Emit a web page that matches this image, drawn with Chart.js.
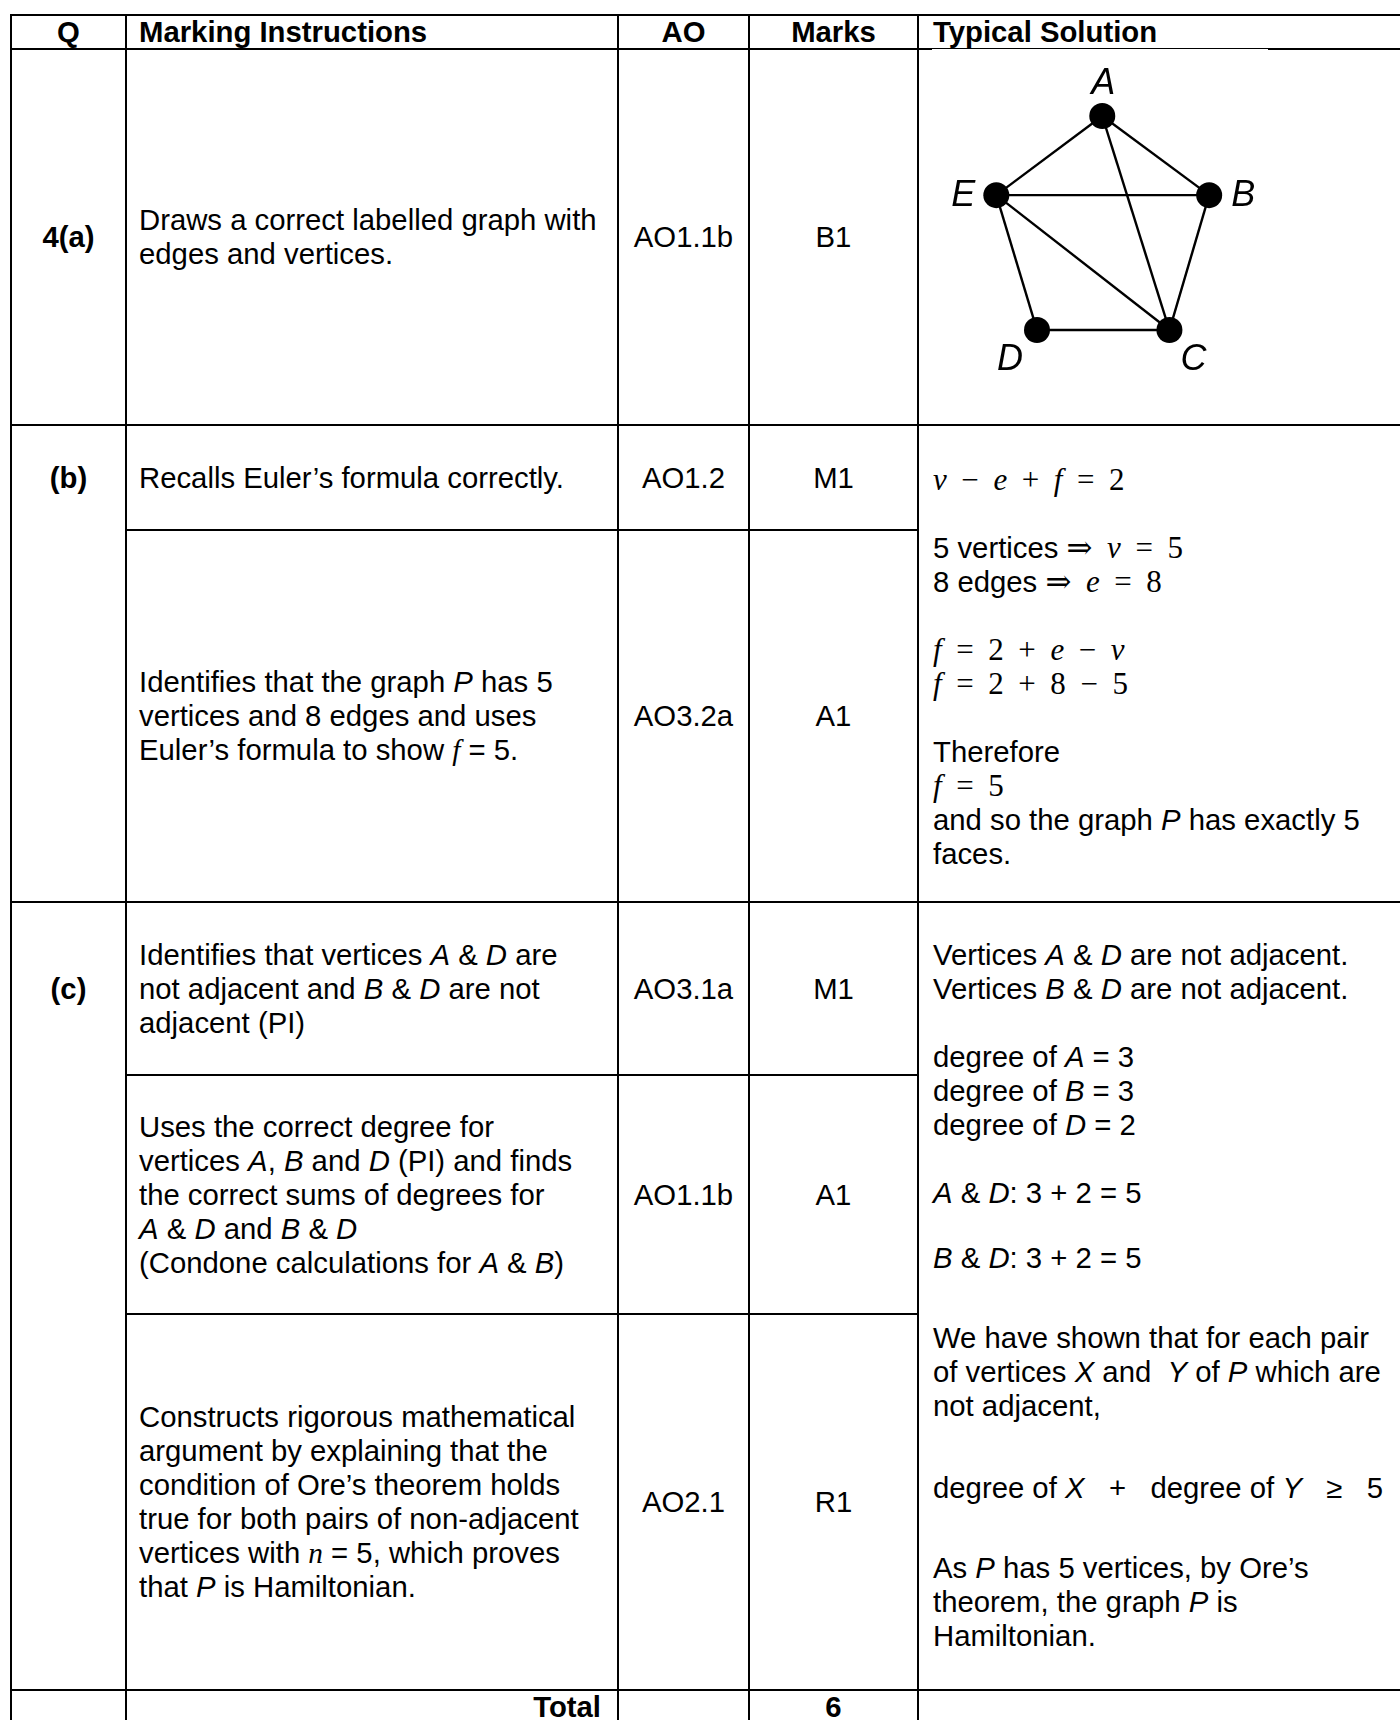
<!DOCTYPE html>
<html>
<head>
<meta charset="utf-8">
<script src="https://cdn.jsdelivr.net/npm/chart.js@4.4.1/dist/chart.umd.min.js"></script>
<style>
  html, body { margin: 0; padding: 0; background: #fff; overflow: hidden; }
  body { position: relative; width: 1400px; height: 1720px; font-family: "Liberation Sans", Arial, sans-serif; font-size: 29.3px; color: #000; }
  .h { position: absolute; height: 2px; background: #000; }
  .v { position: absolute; width: 2px; top: 14px; height: 1710px; background: #000; }
  .c { position: absolute; display: flex; align-items: center; line-height: 34px; white-space: nowrap; box-sizing: border-box; }
  .ctr { justify-content: center; text-align: center; }
  .b { font-weight: bold; }
  .top { align-items: flex-start; display: block; }
  .ti { font-family: "Liberation Serif", serif; font-style: italic; }
  .mth { font-family: "Liberation Serif", "DejaVu Serif", serif; font-size: 31px; word-spacing: 0.22em; }
  .sp { height: 34px; }
  #graph { position: absolute; left: 919px; top: 50px; }
</style>
</head>
<body>

<!-- grid lines -->
<div class="v" style="left:10px"></div>
<div class="v" style="left:125px"></div>
<div class="v" style="left:617px"></div>
<div class="v" style="left:748px"></div>
<div class="v" style="left:917px"></div>

<div class="h" style="top:14px;left:10px;width:1390px"></div>
<div class="h" style="top:48px;left:10px;width:922px"></div>
<div class="h" style="top:48px;left:932px;width:336px;height:1px"></div>
<div class="h" style="top:48px;left:1268px;width:132px"></div>
<div class="h" style="top:424px;left:10px;width:1390px"></div>
<div class="h" style="top:529px;left:125px;width:794px"></div>
<div class="h" style="top:901px;left:10px;width:1390px"></div>
<div class="h" style="top:1074px;left:125px;width:794px"></div>
<div class="h" style="top:1313px;left:125px;width:794px"></div>
<div class="h" style="top:1689px;left:10px;width:1390px"></div>

<!-- header -->
<div class="c ctr b" style="left:12px;top:16px;width:113px;height:32px">Q</div>
<div class="c b" style="left:127px;top:16px;width:490px;height:32px;padding-left:12px">Marking Instructions</div>
<div class="c ctr b" style="left:619px;top:16px;width:129px;height:32px">AO</div>
<div class="c ctr b" style="left:750px;top:16px;width:167px;height:32px">Marks</div>
<div class="c b" style="left:919px;top:16px;width:481px;height:32px;padding-left:14px">Typical Solution</div>

<!-- 4(a) -->
<div class="c ctr b" style="left:12px;top:50px;width:113px;height:374px">4(a)</div>
<div class="c" style="left:127px;top:50px;width:490px;height:374px;padding-left:12px"><div>Draws a correct labelled graph with<br>edges and vertices.</div></div>
<div class="c ctr" style="left:619px;top:50px;width:129px;height:374px">AO1.1b</div>
<div class="c ctr" style="left:750px;top:50px;width:167px;height:374px">B1</div>
<canvas id="graph" width="481" height="374"></canvas>

<!-- (b) -->
<div class="c ctr b" style="left:12px;top:426px;width:113px;height:103px">(b)</div>
<div class="c" style="left:127px;top:426px;width:490px;height:103px;padding-left:12px">Recalls Euler’s formula correctly.</div>
<div class="c ctr" style="left:619px;top:426px;width:129px;height:103px">AO1.2</div>
<div class="c ctr" style="left:750px;top:426px;width:167px;height:103px">M1</div>
<div class="c" style="left:127px;top:531px;width:490px;height:370px;padding-left:12px"><div>Identifies that the graph <i>P</i> has 5<br>vertices and 8 edges and uses<br>Euler’s formula to show <span class="ti">f</span> = 5.</div></div>
<div class="c ctr" style="left:619px;top:531px;width:129px;height:370px">AO3.2a</div>
<div class="c ctr" style="left:750px;top:531px;width:167px;height:370px">A1</div>
<div class="c top" style="left:919px;top:426px;width:481px;height:475px;padding:37px 0 0 14px">
  <div class="mth"><i>v</i> − <i>e</i> + <i>f</i> = 2</div>
  <div class="sp"></div>
  <div>5 vertices <span class="mth">⇒ <i>v</i> = 5</span></div>
  <div>8 edges <span class="mth">⇒ <i>e</i> = 8</span></div>
  <div class="sp"></div>
  <div class="mth"><i>f</i> = 2 + <i>e</i> − <i>v</i></div>
  <div class="mth"><i>f</i> = 2 + 8 − 5</div>
  <div class="sp"></div>
  <div>Therefore</div>
  <div class="mth"><i>f</i> = 5</div>
  <div>and so the graph <i>P</i> has exactly 5</div>
  <div>faces.</div>
</div>

<!-- (c) -->
<div class="c ctr b" style="left:12px;top:903px;width:113px;height:171px">(c)</div>
<div class="c" style="left:127px;top:903px;width:490px;height:171px;padding-left:12px"><div>Identifies that vertices <i>A</i> &amp; <i>D</i> are<br>not adjacent and <i>B</i> &amp; <i>D</i> are not<br>adjacent (PI)</div></div>
<div class="c ctr" style="left:619px;top:903px;width:129px;height:171px">AO3.1a</div>
<div class="c ctr" style="left:750px;top:903px;width:167px;height:171px">M1</div>
<div class="c" style="left:127px;top:1076px;width:490px;height:237px;padding-left:12px"><div>Uses the correct degree for<br>vertices <i>A</i>, <i>B</i> and <i>D</i> (PI) and finds<br>the correct sums of degrees for<br><i>A</i> &amp; <i>D</i> and <i>B</i> &amp; <i>D</i><br>(Condone calculations for <i>A</i> &amp; <i>B</i>)</div></div>
<div class="c ctr" style="left:619px;top:1076px;width:129px;height:237px">AO1.1b</div>
<div class="c ctr" style="left:750px;top:1076px;width:167px;height:237px">A1</div>
<div class="c" style="left:127px;top:1315px;width:490px;height:374px;padding-left:12px"><div>Constructs rigorous mathematical<br>argument by explaining that the<br>condition of Ore’s theorem holds<br>true for both pairs of non-adjacent<br>vertices with <span class="ti">n</span> = 5, which proves<br>that <i>P</i> is Hamiltonian.</div></div>
<div class="c ctr" style="left:619px;top:1315px;width:129px;height:374px">AO2.1</div>
<div class="c ctr" style="left:750px;top:1315px;width:167px;height:374px">R1</div>
<div class="c top" style="left:919px;top:903px;width:481px;height:786px;padding:35px 0 0 14px">
  <div>Vertices <i>A</i> &amp; <i>D</i> are not adjacent.</div>
  <div>Vertices <i>B</i> &amp; <i>D</i> are not adjacent.</div>
  <div class="sp"></div>
  <div>degree of <i>A</i> = 3</div>
  <div>degree of <i>B</i> = 3</div>
  <div>degree of <i>D</i> = 2</div>
  <div class="sp"></div>
  <div><i>A</i> &amp; <i>D</i>: 3 + 2 = 5</div>
  <div style="height:31px"></div>
  <div><i>B</i> &amp; <i>D</i>: 3 + 2 = 5</div>
  <div style="height:46px"></div>
  <div>We have shown that for each pair</div>
  <div>of vertices <i>X</i> and &nbsp;<i>Y</i> of <i>P</i> which are</div>
  <div>not adjacent,</div>
  <div style="height:48px"></div>
  <div>degree of <i>X</i>&nbsp;&nbsp;&nbsp;+&nbsp;&nbsp;&nbsp;degree of <i>Y</i>&nbsp;&nbsp;&nbsp;≥&nbsp;&nbsp;&nbsp;5</div>
  <div style="height:46px"></div>
  <div>As <i>P</i> has 5 vertices, by Ore’s</div>
  <div>theorem, the graph <i>P</i> is</div>
  <div>Hamiltonian.</div>
</div>

<!-- total -->
<div class="c b" style="left:127px;top:1691px;width:490px;height:32px;justify-content:flex-end;padding-right:16px">Total</div>
<div class="c ctr b" style="left:750px;top:1691px;width:167px;height:32px">6</div>

<script>
// graph P : vertex coordinates (1 unit = 10 px on the canvas)
const VERTICES = ['A', 'B', 'C', 'D', 'E'];
const VERTEX_X = [0, 11.3, 7.1, -6.9, -11.2];
const VERTEX_Y = [23.0, 14.5, 0, 0, 14.5];
const EDGES = [['A', 'E'], ['A', 'B'], ['A', 'C'], ['E', 'B'], ['E', 'C'], ['E', 'D'], ['B', 'C'], ['D', 'C']];

const pointOf = (name) => {
  const i = VERTICES.indexOf(name);
  return { x: VERTEX_X[i], y: VERTEX_Y[i] };
};

// ラベルの位置は点からのずれ(px)で指定
const LABEL_OFFSET = {
  A: [1, -32],
  B: [34, 1],
  C: [24, 30],
  D: [-27, 30],
  E: [-33, 1],
};

const vertexLabels = {
  id: 'vertexLabels',
  afterDatasetsDraw: function(chart) {
    const ctx = chart.ctx;
    const meta = chart.getDatasetMeta(0);
    ctx.save();
    ctx.fillStyle = '#000';
    ctx.font = 'italic 36px "Liberation Sans", Arial, sans-serif';
    ctx.textAlign = 'center';
    ctx.textBaseline = 'middle';
    meta.data.forEach((element, index) => {
      const name = VERTICES[index];
      const off = LABEL_OFFSET[name];
      ctx.fillText(name, element.x + off[0], element.y + off[1]);
    });
    ctx.restore();
  }
};

const datasets = [
  {
    label: 'vertices',
    data: VERTICES.map(pointOf),
    pointRadius: 13,
    pointBackgroundColor: '#000',
    pointBorderWidth: 0,
    showLine: false,
  },
];
EDGES.forEach((edge) => {
  datasets.push({
    label: edge.join(''),
    data: [pointOf(edge[0]), pointOf(edge[1])],
    showLine: true,
    borderColor: '#000',
    borderWidth: 2.4,
    pointRadius: 0,
  });
});

window.onload = function () {
  const context = document.querySelector('#graph').getContext('2d');
  new Chart(context, {
    type: 'scatter',
    data: { datasets: datasets },
    options: {
      responsive: false,
      animation: false,
      events: [],
      layout: { padding: 0 },
      scales: {
        x: { type: 'linear', min: -18.0, max: 30.1, display: false },
        y: { type: 'linear', min: -8.7, max: 28.7, display: false },
      },
      plugins: {
        legend: { display: false },
        tooltip: { enabled: false },
      },
    },
    plugins: [vertexLabels],
  });
};
</script>
</body>
</html>
